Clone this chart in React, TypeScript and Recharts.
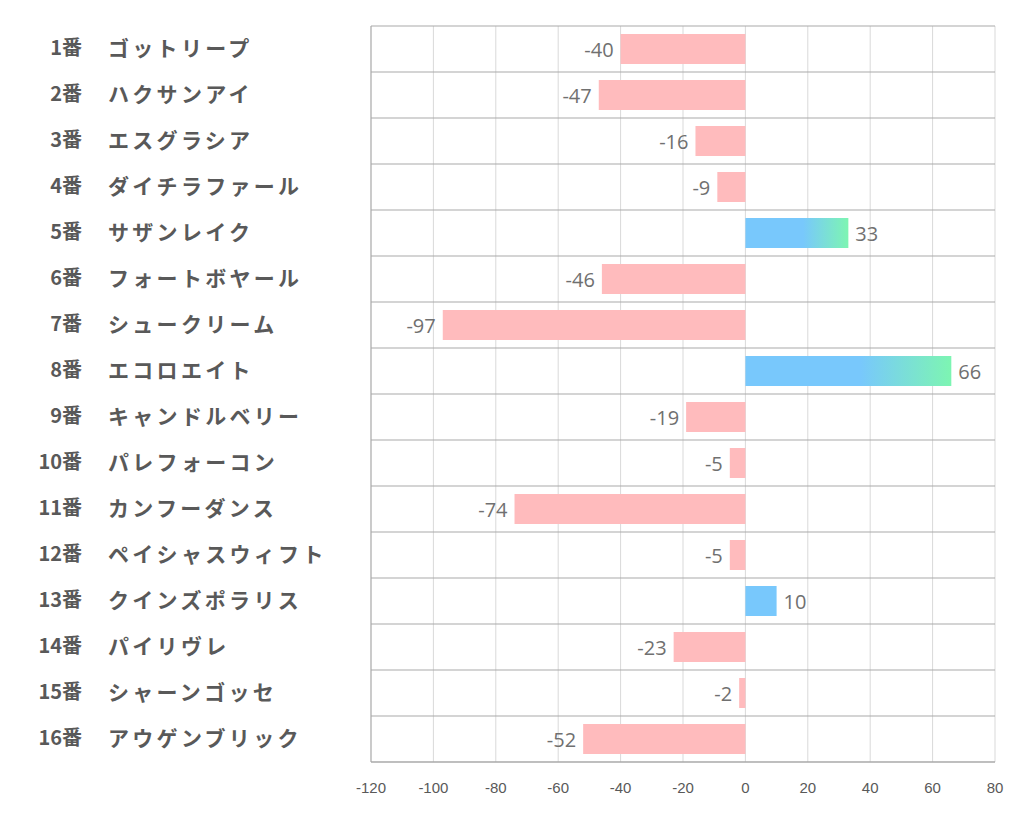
import { BarChart, Bar, XAxis, YAxis, CartesianGrid, Cell, LabelList, ReferenceLine } from "recharts";

const horseNumbers = ["1番", "2番", "3番", "4番", "5番", "6番", "7番", "8番", "9番", "10番", "11番", "12番", "13番", "14番", "15番", "16番"];
const horseNames = [
    "ゴットリープ",
    "ハクサンアイ",
    "エスグラシア",
    "ダイチラファール",
    "サザンレイク",
    "フォートボヤール",
    "シュークリーム",
    "エコロエイト",
    "キャンドルベリー",
    "パレフォーコン",
    "カンフーダンス",
    "ペイシャスウィフト",
    "クインズポラリス",
    "パイリヴレ",
    "シャーンゴッセ",
    "アウゲンブリック",
];
const scores = [-40, -47, -16, -9, 33, -46, -97, 66, -19, -5, -74, -5, 10, -23, -2, -52];
const xTicks = [-120, -100, -80, -60, -40, -20, 0, 20, 40, 60, 80];

const PINK = "#ffbbbd";
const BLUE = "#78c8fc";

const data = horseNames.map((name, i) => ({ key: i, num: horseNumbers[i], name, score: scores[i] }));

// left labels: number right-aligned, horse name after a gap
const HorseTick = (props: any) => {
    const { y, payload } = props;
    const row = data.find((d) => d.key === payload.value);
    return (
        <g>
            <text x={74} y={y - 2.5} textAnchor="end" dominantBaseline="central" fill="#595959"
                style={{ fontFamily: "'Noto Sans CJK JP'", fontWeight: 700, fontSize: 20 }}>
                {row?.num}
            </text>
            <text x={100} y={y - 2.5} textAnchor="start" dominantBaseline="central" fill="#595959"
                style={{ fontFamily: "'Noto Sans CJK JP'", fontWeight: 700, fontSize: 21, letterSpacing: 3.3 }}>
                {row?.name}
            </text>
        </g>
    );
};

const ValueLabel = (props: any) => {
    const { x, y, width, height, value } = props;
    const end = Number(x) + Number(width);
    const neg = value < 0;
    return (
        <text x={neg ? end - 7 : end + 7} y={Number(y) + Number(height) / 2} textAnchor={neg ? "end" : "start"}
            dominantBaseline="central" fill="#707070" style={{ fontFamily: "'Open Sans'", fontSize: 20 }}>
            {value}
        </text>
    );
};

export default function App() {
    return (
        <div style={{ width: 1006, height: 810, background: "#fff" }}>
            <BarChart width={1006} height={810} data={data} layout="vertical"
                margin={{ top: 18, right: 19, left: 0, bottom: 16 }}>
                <defs>
                    <linearGradient id="posGrad" x1="0" y1="0" x2="1" y2="0">
                        <stop offset="0%" stopColor={BLUE} />
                        <stop offset="56%" stopColor={BLUE} />
                        <stop offset="100%" stopColor="#7df5b2" />
                    </linearGradient>
                </defs>
                <CartesianGrid horizontal={false} stroke="#d9d9d9" />
                <CartesianGrid vertical={false} stroke="#a9a9a9"
                    horizontalCoordinatesGenerator={({ offset }: any) =>
                        Array.from({ length: data.length + 1 }, (_, i) => offset.top + (i * offset.height) / data.length)
                    } />
                <ReferenceLine x={-120} stroke="#a9a9a9" />
                <XAxis type="number" domain={[-120, 80]} ticks={xTicks} interval={0}
                    axisLine={{ stroke: "#a9a9a9" }} tickLine={false} tickMargin={14} height={40}
                    tick={{ fill: "#595959", fontSize: 15, fontFamily: "'Liberation Sans Narrow', 'Liberation Sans'" }} />
                <YAxis type="category" dataKey="key" width={363} axisLine={false} tickLine={false}
                    interval={0} tick={<HorseTick />} />
                <Bar dataKey="score" barSize={30} isAnimationActive={false}>
                    {data.map((d) => (
                        <Cell key={d.key} fill={d.score < 0 ? PINK : d.score >= 30 ? "url(#posGrad)" : BLUE} />
                    ))}
                    <LabelList dataKey="score" content={<ValueLabel />} />
                </Bar>
            </BarChart>
        </div>
    );
}
